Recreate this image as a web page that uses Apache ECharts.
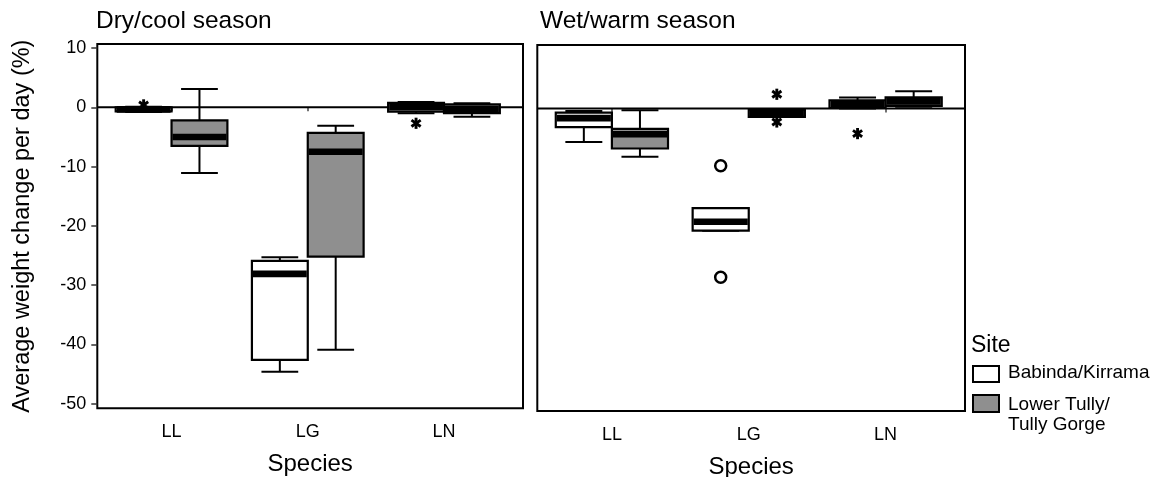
<!DOCTYPE html>
<html>
<head>
<meta charset="utf-8">
<script src="https://cdn.jsdelivr.net/npm/echarts@6/dist/echarts.min.js"></script>
<style>
  html, body { margin: 0; padding: 0; background: #fff; }
  #chart { width: 1154px; height: 477px; }
</style>
</head>
<body>
<div id="chart"></div>
<script>
// Species on the x axis, the two collection sites, and the two seasonal panels
const species = ['LL', 'LG', 'LN'];
const sites = ['Babinda/Kirrama', 'Lower Tully/', 'Tully Gorge'];
const seasons = ['Dry/cool season', 'Wet/warm season'];
const yTicks = [-50, -40, -30, -20, -10, 0, 10];

// Box summaries per species: [min, q1, median, q3, max] (% weight change per day)
const dryBabinda = [
  [-0.8, -0.7, -0.35, 0.0, 0.1],
  [-44.6, -42.6, -28.1, -25.9, -25.3],
  [-1.0, -0.75, 0.0, 0.75, 0.9]
];
const dryTully = [
  [-11.1, -6.5, -5.0, -2.2, 3.1],
  [-40.9, -25.2, -7.5, -4.3, -3.1],
  [-1.6, -1.0, -0.3, 0.5, 0.7]
];
const wetBabinda = [
  [-5.6, -3.1, -1.6, -0.67, -0.4],
  [-20.5, -20.5, -19.0, -16.7, -16.7],
  [0.0, 0.1, 0.75, 1.4, 1.85]
];
const wetTully = [
  [-8.1, -6.7, -4.3, -3.4, -0.3],
  [-1.4, -1.4, -0.8, -0.17, -0.17],
  [0.3, 0.45, 1.2, 1.9, 2.9]
];

// Outlying values: [species, site index, value, marker]
const dryOutliers = [
  ['LL', 0, 0.4, 'asterisk'],
  ['LN', 0, -2.7, 'asterisk']
];
const wetOutliers = [
  ['LG', 0, -9.6, 'circle'],
  ['LG', 0, -28.3, 'circle'],
  ['LG', 1, 2.4, 'asterisk'],
  ['LG', 1, -2.25, 'asterisk'],
  ['LN', 0, -4.2, 'asterisk']
];

// Layout constants (in category units on the x value axis)
const BOX_W = 0.41;
const HALF = BOX_W / 2;
const CAP_W = 0.27;
const Y_MIN = -50.76, Y_MAX = 10.67;
const X_MIN = 0.455, X_MAX = 3.58;
const GREY = '#8f8f8f';
const FONT = '"Liberation Sans", Arial, Helvetica, sans-serif';

function boxData(rows) {
  return rows.map((r, i) => [i + 1].concat(r));
}

function boxRenderer(side, fill) {
  return function (params, api) {
    const c = api.value(0) + side * HALF;
    const lo = api.coord([c, api.value(1)]);
    const q1 = api.coord([c, api.value(2)]);
    const md = api.coord([c, api.value(3)]);
    const q3 = api.coord([c, api.value(4)]);
    const hi = api.coord([c, api.value(5)]);
    const bw = api.size([BOX_W, 0])[0];
    const cw = api.size([CAP_W, 0])[0];
    const x = lo[0];
    const ln = (x1, y1, x2, y2) => ({
      type: 'line', shape: { x1, y1, x2, y2 },
      style: { stroke: '#000', lineWidth: 2 }
    });
    return {
      type: 'group',
      children: [
        ln(x, hi[1], x, q3[1]),
        ln(x, q1[1], x, lo[1]),
        ln(x - cw / 2, hi[1], x + cw / 2, hi[1]),
        ln(x - cw / 2, lo[1], x + cw / 2, lo[1]),
        {
          type: 'rect',
          shape: { x: x - bw / 2, y: q3[1], width: bw, height: q1[1] - q3[1] },
          style: { fill: fill, stroke: '#000', lineWidth: 2.2 }
        },
        {
          type: 'rect',
          shape: { x: x - bw / 2 + 1, y: md[1] - 3.3, width: bw - 2, height: 6.6 },
          style: { fill: '#000' }
        }
      ]
    };
  };
}

function outlierData(rows) {
  return rows.map(r => [
    species.indexOf(r[0]) + 1 + (r[1] === 0 ? -HALF : HALF),
    r[2],
    r[3] === 'circle' ? 1 : 0
  ]);
}

function renderOutlier(params, api) {
  const p = api.coord([api.value(0), api.value(1)]);
  if (api.value(2) === 1) {
    return {
      type: 'circle',
      shape: { cx: p[0], cy: p[1], r: 5.5 },
      style: { fill: '#fff', stroke: '#000', lineWidth: 2.5 }
    };
  }
  const r = 5.6;
  const arms = [90, 35, 145].map(a => {
    const t = a * Math.PI / 180;
    const dx = r * Math.cos(t), dy = r * Math.sin(t);
    return {
      type: 'line',
      shape: { x1: p[0] - dx, y1: p[1] - dy, x2: p[0] + dx, y2: p[1] + dy },
      style: { stroke: '#000', lineWidth: 2.9 }
    };
  });
  return { type: 'group', children: arms };
}

function renderZero(params, api) {
  const cs = params.coordSys;
  const y = api.coord([1, api.value(0)])[1];
  return {
    type: 'line',
    shape: { x1: cs.x, y1: y, x2: cs.x + cs.width, y2: y },
    style: { stroke: '#000', lineWidth: 2 }
  };
}

function xAxisFor(gridIndex) {
  return {
    type: 'value', gridIndex, min: X_MIN, max: X_MAX,
    name: 'Species', nameLocation: 'middle', nameGap: 44,
    nameTextStyle: { fontFamily: FONT, fontSize: 24, color: '#000' },
    axisLine: { show: false },
    splitLine: { show: false },
    axisTick: { show: true, customValues: [1, 2, 3], length: 4, lineStyle: { color: '#444', width: 1.5 } },
    axisLabel: {
      customValues: [1, 2, 3], margin: 15,
      formatter: v => species[Math.round(v) - 1],
      fontFamily: FONT, fontSize: 18, color: '#000'
    }
  };
}

function yAxisFor(gridIndex, labelled) {
  return {
    type: 'value', gridIndex, min: Y_MIN, max: Y_MAX,
    name: labelled ? 'Average weight change per day (%)' : '',
    nameLocation: 'middle', nameGap: 63, nameRotate: 90,
    nameTextStyle: { fontFamily: FONT, fontSize: 23.5, color: '#000' },
    axisLine: { show: false },
    splitLine: { show: false },
    axisTick: { show: labelled, customValues: yTicks, length: 6, lineStyle: { color: '#333', width: 1.5 } },
    axisLabel: {
      show: labelled, customValues: yTicks, margin: 11,
      fontFamily: FONT, fontSize: 18, color: '#000'
    }
  };
}

const panels = [
  { boxes: [dryBabinda, dryTully], outliers: dryOutliers },
  { boxes: [wetBabinda, wetTully], outliers: wetOutliers }
];

const series = [];
panels.forEach((panel, g) => {
  series.push({
    type: 'custom', xAxisIndex: g, yAxisIndex: g, z: 1,
    renderItem: renderZero, data: [[0]], silent: true
  });
  series.push({
    type: 'custom', name: sites[0], xAxisIndex: g, yAxisIndex: g, z: 2,
    renderItem: boxRenderer(-1, '#fff'),
    encode: { x: 0, y: [1, 2, 3, 4, 5] },
    data: boxData(panel.boxes[0])
  });
  series.push({
    type: 'custom', name: sites[1], xAxisIndex: g, yAxisIndex: g, z: 3,
    renderItem: boxRenderer(1, GREY),
    encode: { x: 0, y: [1, 2, 3, 4, 5] },
    data: boxData(panel.boxes[1])
  });
  series.push({
    type: 'custom', xAxisIndex: g, yAxisIndex: g, z: 4,
    renderItem: renderOutlier,
    encode: { x: 0, y: 1 },
    data: outlierData(panel.outliers)
  });
});

const chart = echarts.init(document.getElementById('chart'), null, { renderer: 'canvas' });
chart.setOption({
  animation: false,
  backgroundColor: '#fff',
  title: [
    { text: seasons[0], left: 96, top: 9, padding: 0,
      textStyle: { fontFamily: FONT, fontSize: 24.5, fontWeight: 'normal', color: '#000' } },
    { text: seasons[1], left: 540, top: 9, padding: 0,
      textStyle: { fontFamily: FONT, fontSize: 24.5, fontWeight: 'normal', color: '#000' } }
  ],
  grid: [
    { left: 97.3, top: 44, width: 425.7, height: 364.3, show: true, outerBoundsMode: 'none',
      containLabel: false, borderColor: '#000', borderWidth: 2, backgroundColor: 'transparent' },
    { left: 537.3, top: 45, width: 427.7, height: 366, show: true, outerBoundsMode: 'none',
      containLabel: false, borderColor: '#000', borderWidth: 2, backgroundColor: 'transparent' }
  ],
  xAxis: [xAxisFor(0), xAxisFor(1)],
  yAxis: [yAxisFor(0, true), yAxisFor(1, false)],
  series: series,
  graphic: [
    { type: 'text', left: 971, top: 334,
      style: { text: 'Site', font: '23px ' + FONT, fill: '#000' } },
    { type: 'rect', shape: { x: 973, y: 366, width: 26, height: 16 },
      style: { fill: '#fff', stroke: '#000', lineWidth: 2 } },
    { type: 'text', left: 1008, top: 363,
      style: { text: sites[0], font: '19px ' + FONT, fill: '#000' } },
    { type: 'rect', shape: { x: 973, y: 395, width: 26, height: 17 },
      style: { fill: GREY, stroke: '#000', lineWidth: 2 } },
    { type: 'text', left: 1008, top: 395,
      style: { text: sites[1], font: '19px ' + FONT, fill: '#000' } },
    { type: 'text', left: 1008, top: 415,
      style: { text: sites[2], font: '19px ' + FONT, fill: '#000' } }
  ]
});
</script>
</body>
</html>
